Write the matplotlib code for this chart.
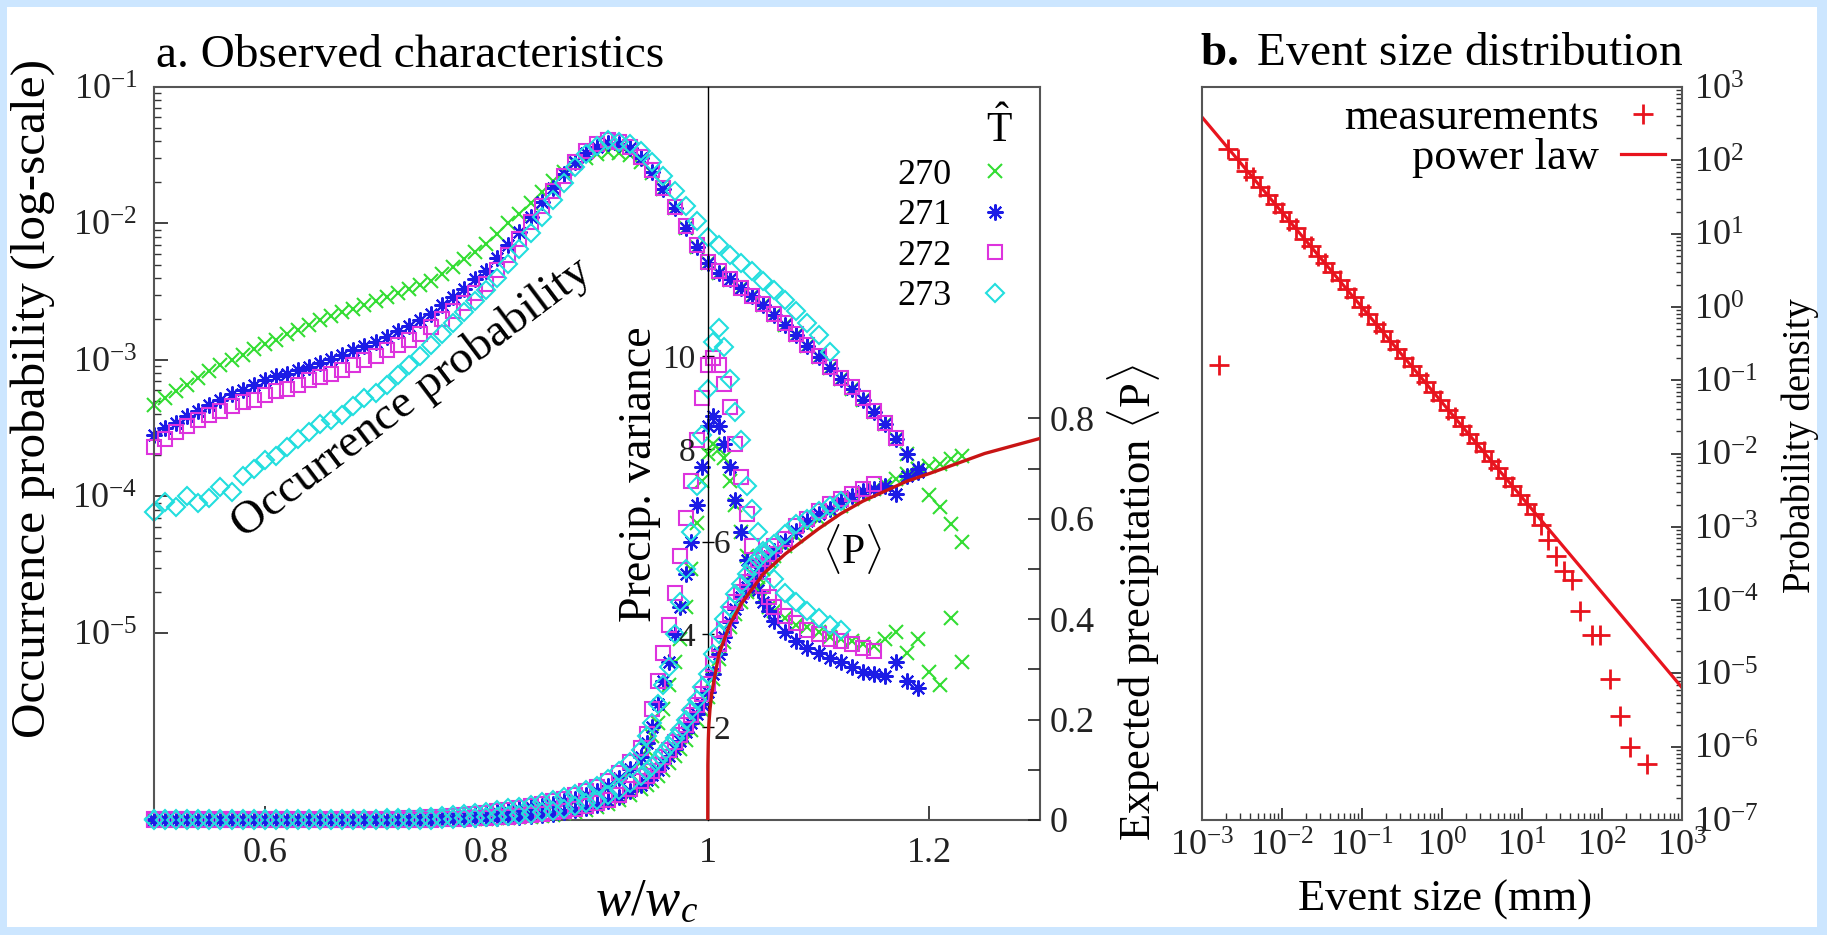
import numpy as np
import matplotlib
matplotlib.use("Agg")
import matplotlib.pyplot as plt
from matplotlib.patches import Rectangle
from matplotlib.ticker import FixedLocator, FuncFormatter, NullFormatter, LogLocator

plt.rcParams['font.family'] = ['Liberation Serif', 'DejaVu Serif']
plt.rcParams['mathtext.fontset'] = 'custom'
plt.rcParams['mathtext.rm'] = 'Liberation Serif'
plt.rcParams['mathtext.it'] = 'Liberation Serif:italic'
plt.rcParams['mathtext.bf'] = 'Liberation Serif:bold'

W, H = 1827, 935
def fx(px):
    return px / W
def fy(py):
    return 1 - py / H

# ==== panel a data ====
temps = ['270', '271', '272', '273']
colors = ['#33dd33', '#1c1ce6', '#dd33dd', '#22dede']
markers = ['x', (8, 2, 0), 's', 'D']
msizes = [10.5, 11.5, 9.5, 9]

# occurrence probability (log10), sampled every 0.01 in w/wc starting at 0.50
w_occ = [0.50, 0.51, 0.52, 0.53, 0.54, 0.55, 0.56, 0.57, 0.58, 0.59,
         0.60, 0.61, 0.62, 0.63, 0.64, 0.65, 0.66, 0.67, 0.68, 0.69,
         0.70, 0.71, 0.72, 0.73, 0.74, 0.75, 0.76, 0.77, 0.78, 0.79,
         0.80, 0.81, 0.82, 0.83, 0.84, 0.85, 0.86, 0.87, 0.88, 0.89,
         0.90, 0.91, 0.92, 0.93, 0.94, 0.95, 0.96, 0.97, 0.98, 0.99,
         1.00, 1.01, 1.02, 1.03, 1.04, 1.05, 1.06, 1.07, 1.08, 1.09,
         1.10, 1.11, 1.12, 1.13, 1.14, 1.15, 1.16, 1.17, 1.18, 1.19,
         1.20, 1.21, 1.22, 1.23]

occ_270 = [-3.33, -3.28, -3.23, -3.18, -3.13, -3.08, -3.04, -3.00, -2.96, -2.92,
           -2.88, -2.85, -2.81, -2.78, -2.74, -2.71, -2.68, -2.65, -2.63, -2.60,
           -2.57, -2.54, -2.51, -2.48, -2.45, -2.42, -2.37, -2.32, -2.26, -2.21,
           -2.15, -2.08, -2.00, -1.93, -1.85, -1.77, -1.69, -1.62, -1.56, -1.52,
           -1.49, -1.475, -1.48, -1.50, -1.55, -1.63, -1.75, -1.89, -2.03, -2.17,
           -2.29, -2.36, -2.415, -2.47, -2.53, -2.60, -2.67, -2.74, -2.82, -2.90,
           -2.98, -3.06, -3.14, -3.21, -3.29, -3.38, -3.47, -3.58, -3.69, -3.80,
           -3.99, -4.08, -4.20, -4.33]
occ_271 = [-3.55, -3.50, -3.46, -3.41, -3.37, -3.33, -3.29, -3.25, -3.22, -3.18,
           -3.15, -3.12, -3.10, -3.07, -3.05, -3.02, -2.99, -2.96, -2.93, -2.90,
           -2.87, -2.83, -2.79, -2.75, -2.71, -2.66, -2.60, -2.54, -2.48, -2.41,
           -2.345, -2.25, -2.16, -2.06, -1.95, -1.84, -1.74, -1.64, -1.55, -1.48,
           -1.44, -1.41, -1.42, -1.45, -1.52, -1.62, -1.75, -1.89, -2.03, -2.17,
           -2.29, -2.36, -2.41, -2.47, -2.53, -2.60, -2.67, -2.74, -2.82, -2.90,
           -2.98, -3.06, -3.14, -3.21, -3.29, -3.38, -3.47, -3.58, -3.69, -3.82]
occ_272 = [-3.64, -3.58, -3.53, -3.48, -3.44, -3.40, -3.37, -3.34, -3.31, -3.29,
           -3.26, -3.23, -3.21, -3.18, -3.15, -3.125, -3.10, -3.07, -3.04, -3.00,
           -2.97, -2.93, -2.89, -2.85, -2.81, -2.76, -2.70, -2.64, -2.58, -2.51,
           -2.44, -2.34, -2.23, -2.11, -1.99, -1.87, -1.76, -1.65, -1.55, -1.47,
           -1.42, -1.39, -1.40, -1.44, -1.51, -1.61, -1.74, -1.88, -2.02, -2.16,
           -2.28, -2.35, -2.41, -2.47, -2.53, -2.59, -2.66, -2.73, -2.81, -2.89,
           -2.97, -3.05, -3.13, -3.20, -3.28, -3.37, -3.46, -3.57]
occ_273 = [-4.11, -4.04, -4.08, -4.00, -4.05, -4.01, -3.93, -3.97, -3.85, -3.80,
           -3.73, -3.70, -3.64, -3.58, -3.53, -3.47, -3.44, -3.40, -3.34, -3.28,
           -3.24, -3.18, -3.11, -3.04, -2.97, -2.89, -2.81, -2.73, -2.65, -2.57,
           -2.49, -2.40, -2.30, -2.19, -2.07, -1.95, -1.83, -1.70, -1.585, -1.49,
           -1.43, -1.39, -1.40, -1.42, -1.47, -1.55, -1.65, -1.76, -1.87, -1.98,
           -2.10, -2.16, -2.23, -2.29, -2.35, -2.42, -2.49, -2.56, -2.64, -2.73,
           -2.82, -2.94]

# variance and <P> share a grid that is finer around w = wc
w_vp = [0.50, 0.51, 0.52, 0.53, 0.54, 0.55, 0.56, 0.57, 0.58, 0.59,
        0.60, 0.61, 0.62, 0.63, 0.64, 0.65, 0.66, 0.67, 0.68, 0.69,
        0.70, 0.71, 0.72, 0.73, 0.74, 0.75, 0.76, 0.77, 0.78, 0.79,
        0.80, 0.81, 0.82, 0.83, 0.84, 0.85, 0.86, 0.87, 0.88, 0.89,
        0.90, 0.91, 0.92, 0.93, 0.94,
        0.945, 0.95, 0.955, 0.96, 0.965, 0.97, 0.975, 0.98, 0.985, 0.99,
        0.995, 1.00, 1.005, 1.01, 1.015, 1.02, 1.025, 1.03, 1.035, 1.04,
        1.045, 1.05, 1.055, 1.06,
        1.07, 1.08, 1.09, 1.10, 1.11, 1.12, 1.13, 1.14, 1.15, 1.16,
        1.17, 1.18, 1.19, 1.20, 1.21, 1.22, 1.23]

var_270 = ([0.02] * 21 +
           [0.02, 0.03, 0.03, 0.04, 0.05, 0.06, 0.07, 0.08, 0.10, 0.12] +
           [0.14, 0.17, 0.20, 0.23, 0.27, 0.31, 0.36, 0.42, 0.49, 0.58, 0.69, 0.84, 1.02, 1.25] +
           [1.5, 1.8, 2.1, 2.4, 2.9, 3.4, 3.9, 4.6, 5.4, 6.4, 7.3, 7.9, 8.1, 8.0, 7.8, 7.3,
            6.8, 6.2, 5.7, 5.3, 5.0, 4.8, 4.6, 4.5] +
           [4.35, 4.2, 4.15, 4.05, 3.95, 3.9, 3.85, 3.8, 3.75, 3.9, 4.05, 3.6, 3.9, 3.2,
            2.9, 4.35, 3.4])
var_271 = ([0.02] * 21 +
           [0.03, 0.03, 0.04, 0.05, 0.06, 0.07, 0.08, 0.10, 0.12, 0.14] +
           [0.17, 0.20, 0.23, 0.27, 0.31, 0.35, 0.40, 0.46, 0.53, 0.62, 0.74, 0.90, 1.10, 1.35] +
           [1.65, 2.0, 2.5, 3.0, 3.4, 4.0, 4.6, 5.3, 6.0, 6.8, 7.6, 8.5, 8.7, 8.5, 8.1, 7.6,
            6.9, 6.2, 5.6, 5.2, 4.95, 4.7, 4.5, 4.3] +
           [4.05, 3.85, 3.7, 3.6, 3.5, 3.4, 3.3, 3.2, 3.15, 3.1, 3.4, 3.0, 2.85])
var_272 = ([0.02] * 21 +
           [0.03, 0.03, 0.04, 0.05, 0.06, 0.07, 0.09, 0.11, 0.13, 0.16] +
           [0.19, 0.22, 0.26, 0.30, 0.35, 0.40, 0.46, 0.53, 0.62, 0.72, 0.85, 1.02, 1.25, 1.55] +
           [1.85, 2.4, 3.0, 3.6, 4.2, 4.9, 5.7, 6.5, 7.3, 8.2, 9.1, 9.8, 9.95, 9.8, 9.4, 8.9,
            8.1, 7.4, 6.6, 5.9, 5.4, 5.05, 4.8, 4.6] +
           [4.4, 4.25, 4.1, 4.0, 3.9, 3.85, 3.8, 3.7, 3.65])
var_273 = ([0.03] * 21 +
           [0.04, 0.04, 0.05, 0.06, 0.07, 0.09, 0.11, 0.13, 0.15, 0.18] +
           [0.21, 0.25, 0.29, 0.33, 0.38, 0.43, 0.49, 0.56, 0.64, 0.74, 0.88, 1.05, 1.25, 1.5] +
           [1.8, 2.1, 2.5, 2.9, 3.3, 4.0, 4.7, 5.4, 6.2, 7.2, 8.3, 9.3, 10.3, 10.6, 10.2, 9.5,
            8.8, 8.2, 7.2, 6.7, 6.2, 5.8, 5.5, 5.2] +
           [4.9, 4.7, 4.5, 4.35, 4.2, 4.1])

p_270 = ([0.0] * 26 +
         [0.001, 0.001, 0.001, 0.002, 0.002] +
         [0.003, 0.004, 0.005, 0.006, 0.008, 0.010, 0.013, 0.016, 0.020, 0.025, 0.031, 0.039, 0.049, 0.061] +
         [0.069, 0.078, 0.088, 0.10, 0.113, 0.127, 0.142, 0.16, 0.18, 0.2, 0.22, 0.245, 0.28, 0.32,
          0.355, 0.385, 0.41, 0.435, 0.455, 0.47, 0.485, 0.50, 0.515, 0.525] +
         [0.545, 0.565, 0.585, 0.60, 0.615, 0.625, 0.64, 0.65, 0.66, 0.67, 0.68, 0.69, 0.70,
          0.705, 0.71, 0.72, 0.725])
p_271 = ([0.0] * 26 +
         [0.001, 0.001, 0.002, 0.002, 0.003] +
         [0.004, 0.005, 0.006, 0.008, 0.010, 0.012, 0.015, 0.019, 0.024, 0.030, 0.037, 0.046, 0.057, 0.070] +
         [0.079, 0.089, 0.10, 0.113, 0.127, 0.142, 0.158, 0.175, 0.193, 0.212, 0.232, 0.255, 0.29, 0.33,
          0.365, 0.395, 0.42, 0.445, 0.465, 0.48, 0.495, 0.51, 0.525, 0.535] +
         [0.555, 0.575, 0.595, 0.61, 0.62, 0.635, 0.645, 0.655, 0.66, 0.665, 0.65, 0.685, 0.70])
p_272 = ([0.0] * 26 +
         [0.001, 0.002, 0.002, 0.003, 0.004] +
         [0.005, 0.006, 0.008, 0.010, 0.012, 0.015, 0.018, 0.022, 0.027, 0.033, 0.040, 0.050, 0.062, 0.077] +
         [0.087, 0.098, 0.11, 0.125, 0.14, 0.155, 0.17, 0.19, 0.21, 0.23, 0.25, 0.27, 0.31, 0.35,
          0.38, 0.41, 0.435, 0.455, 0.475, 0.49, 0.505, 0.52, 0.53, 0.545] +
         [0.56, 0.585, 0.60, 0.615, 0.63, 0.64, 0.65, 0.66, 0.67])
p_273 = ([0.0] * 26 +
         [0.002, 0.002, 0.003, 0.004, 0.005] +
         [0.006, 0.008, 0.010, 0.012, 0.015, 0.018, 0.022, 0.027, 0.033, 0.040, 0.049, 0.060, 0.073, 0.088] +
         [0.097, 0.107, 0.12, 0.133, 0.148, 0.163, 0.18, 0.2, 0.22, 0.24, 0.265, 0.29, 0.33, 0.37,
          0.40, 0.425, 0.45, 0.47, 0.49, 0.505, 0.52, 0.53, 0.54, 0.55] +
         [0.57, 0.59, 0.60, 0.615, 0.625, 0.635])

# fitted curve for <P> above wc
red_w = [1.0, 1.0001, 1.0005, 1.001, 1.002, 1.0035, 1.005, 1.0075, 1.01, 1.015, 1.02, 1.03,
         1.04, 1.05, 1.06, 1.07, 1.085, 1.10, 1.12, 1.14, 1.16, 1.18, 1.20, 1.225, 1.25,
         1.275, 1.30]
red_p = [0.0, 0.11, 0.16, 0.19, 0.22, 0.25, 0.27, 0.30, 0.33, 0.36, 0.39, 0.43,
         0.46, 0.49, 0.51, 0.53, 0.555, 0.58, 0.61, 0.635, 0.655, 0.675, 0.69, 0.71, 0.73,
         0.745, 0.76]

occ = [occ_270, occ_271, occ_272, occ_273]
var = [var_270, var_271, var_272, var_273]
pav = [p_270, p_271, p_272, p_273]

# ==== panel b data (log10 values) ====
meas_lx = [-2.79, -2.67, -2.55, -2.45, -2.36, -2.27, -2.18, -2.09, -2.00, -1.91, -1.82,
           -1.73, -1.64, -1.55, -1.46, -1.37, -1.28, -1.19, -1.10, -1.01, -0.92,
           -0.83, -0.74, -0.65, -0.56, -0.47, -0.38, -0.29, -0.20, -0.11, -0.02,
           0.07, 0.16, 0.25, 0.34, 0.43, 0.52, 0.61, 0.70, 0.79, 0.88,
           0.97, 1.06, 1.15, 1.24, 1.33, 1.42, 1.52, 1.62, 1.72, 1.87, 1.98, 2.10,
           2.23, 2.35, 2.56]
meas_ly = [-0.79, 2.15, 2.02, 1.86, 1.77, 1.63, 1.53, 1.40, 1.30, 1.17, 1.07,
           0.93, 0.83, 0.70, 0.60, 0.47, 0.37, 0.24, 0.14, 0.00, -0.10,
           -0.23, -0.33, -0.46, -0.57, -0.70, -0.80, -0.93, -1.03, -1.16, -1.27,
           -1.40, -1.50, -1.63, -1.73, -1.86, -1.96, -2.10, -2.20, -2.33, -2.44,
           -2.56, -2.69, -2.82, -2.97, -3.18, -3.40, -3.60, -3.72, -4.15, -4.48, -4.48, -5.08,
           -5.58, -6.00, -6.24]
pl_x = [1e-3, 1e3]
pl_y = [388.0, 6.4e-6]

# ==== figure ====
fig = plt.figure(figsize=(W / 100, H / 100), dpi=100, facecolor='#cce6ff')
fig.add_artist(Rectangle((fx(7), fy(927)), fx(W - 17), fy(7) - fy(927),
                         transform=fig.transFigure, facecolor='white', edgecolor='none', zorder=-5))

spine_col = '#555555'
tick_fs = 26
mew = 1.5

def pow10(v, pos=None):
    return r'$\mathregular{10^{%d}}$' % int(round(np.log10(v)))

# ---- panel a ----
ax = fig.add_axes([fx(154), fy(820), fx(1040 - 154), fy(87) - fy(820)])
ax.set_facecolor('none')
ax.set_xlim(0.5, 1.3)
ax.set_yscale('log')
ax.set_ylim(10 ** -6.37, 0.1)
for s in ax.spines.values():
    s.set_color(spine_col)
    s.set_linewidth(1.5)

for i in range(4):
    ax.plot(w_occ[:len(occ[i])], 10.0 ** np.array(occ[i]), linestyle='none',
            marker=markers[i], ms=msizes[i], mfc='none', mec=colors[i], mew=mew,
            label=temps[i], clip_on=False)

ax.yaxis.set_major_locator(FixedLocator([1e-5, 1e-4, 1e-3, 1e-2, 1e-1]))
ax.yaxis.set_major_formatter(FuncFormatter(pow10))
minors = [k * 10.0 ** e for e in range(-5, -1) for k in range(2, 10)]
ax.yaxis.set_minor_locator(FixedLocator(minors))
ax.yaxis.set_minor_formatter(NullFormatter())
ax.tick_params(axis='y', which='major', direction='in', length=10, width=1.2,
               left=True, right=False, labelsize=tick_fs, pad=12, colors='#222222')
ax.tick_params(axis='y', which='minor', direction='in', length=5, width=1.0,
               left=True, right=False, colors='#333333')
ax.set_xticks([0.6, 0.8, 1.0, 1.2])
ax.set_xticklabels(['0.6', '0.8', '1', '1.2'])
ax.tick_params(axis='x', direction='in', length=10, width=1.2, top=False,
               labelsize=tick_fs, pad=12, colors='#222222')

leg = ax.legend(title=r'$\hat{\mathrm{T}}$', loc='upper right', bbox_to_anchor=(0.9695, 0.972),
                frameon=False, markerfirst=False, fontsize=26, title_fontsize=30,
                handlelength=1.0, handletextpad=0.7, labelspacing=0.2, borderpad=0,
                borderaxespad=0)
leg._legend_box.align = 'right'

# precipitation variance on an axis drawn at w = wc
ax_v = ax.twinx()
ax_v.set_ylim(0, 15.8)
for s in ['top', 'bottom', 'right']:
    ax_v.spines[s].set_visible(False)
ax_v.spines['left'].set_position(('data', 1.0))
ax_v.spines['left'].set_color('black')
ax_v.spines['left'].set_linewidth(1.0)
ax_v.yaxis.set_ticks_position('left')
ax_v.set_yticks([2, 4, 6, 8, 10])
ax_v.tick_params(axis='y', direction='inout', length=8, width=1.0, labelleft=False, labelright=False)
for v, side in [(10, -1), (8, -1), (6, 1), (4, -1), (2, 1)]:
    ax_v.annotate(str(v), xy=(1.0, v), xytext=(-9 if side < 0 else 4, 0),
                  textcoords='offset points', ha='right' if side < 0 else 'left',
                  va='center_baseline', fontsize=24, color='#222222')
for i in range(4):
    ax_v.plot(w_vp[:len(var[i])], var[i], linestyle='none', marker=markers[i], ms=msizes[i],
              mfc='none', mec=colors[i], mew=mew, clip_on=False)

# expected precipitation on the right
ax_p = ax.twinx()
ax_p.set_ylim(0, 1.46)
for s in ax_p.spines.values():
    s.set_visible(False)
ax_p.set_yticks([0, 0.2, 0.4, 0.6, 0.8])
ax_p.set_yticklabels(['0', '0.2', '0.4', '0.6', '0.8'])
ax_p.yaxis.set_minor_locator(FixedLocator([0.1, 0.3, 0.5, 0.7]))
ax_p.tick_params(axis='y', which='both', direction='in', length=9, width=1.2,
                 labelsize=tick_fs, pad=7, colors='#222222')
for i in range(4):
    ax_p.plot(w_vp[:len(pav[i])], pav[i], linestyle='none', marker=markers[i], ms=msizes[i],
              mfc='none', mec=colors[i], mew=mew, clip_on=False)
ax_p.plot(red_w, red_p, color='#c81414', lw=2.4)

# panel a texts
fig.text(fx(156), fy(56), 'a. Observed characteristics', ha='left', va='center', fontsize=34)
fig.text(fx(33), fy(398), 'Occurrence probability (log-scale)', rotation=90,
         ha='center', va='center', fontsize=35.5)
fig.text(fx(646), fy(902), r'$w/w_c$', ha='center', va='center', fontsize=38)
fig.text(fx(1133), fy(602), r'Expected precipitation $\langle\mathrm{P}\rangle$', rotation=90,
         ha='center', va='center', fontsize=32)
fig.text(fx(640), fy(474), 'Precip. variance', rotation=90, ha='center', va='center', fontsize=33)
fig.text(fx(412), fy(398), 'Occurrence probability', rotation=37, rotation_mode='anchor',
         ha='center', va='center', fontsize=34)
fig.text(fx(852), fy(549), r'$\langle\mathrm{P}\rangle$', ha='center', va='center', fontsize=30)

# ---- panel b ----
bx = fig.add_axes([fx(1202), fy(820), fx(1682 - 1202), fy(87) - fy(820)])
bx.set_xscale('log')
bx.set_yscale('log')
bx.set_xlim(1e-3, 1e3)
bx.set_ylim(1e-7, 1e3)
for s in bx.spines.values():
    s.set_color(spine_col)
    s.set_linewidth(1.5)
red_b = '#e8141e'
bx.plot(10.0 ** np.array(meas_lx), 10.0 ** np.array(meas_ly), linestyle='none', marker='+',
        ms=15, mew=2.0, color=red_b, label='measurements', clip_on=False)
bx.plot(pl_x, pl_y, color=red_b, lw=2.3, label='power law')

bx.xaxis.set_major_locator(LogLocator(base=10, numticks=20))
bx.xaxis.set_minor_locator(LogLocator(base=10, subs=np.arange(2, 10), numticks=20))
bx.xaxis.set_major_formatter(FuncFormatter(pow10))
bx.xaxis.set_minor_formatter(NullFormatter())
bx.yaxis.set_major_locator(LogLocator(base=10, numticks=20))
bx.yaxis.set_minor_locator(LogLocator(base=10, subs=np.arange(2, 10), numticks=20))
bx.yaxis.set_major_formatter(FuncFormatter(pow10))
bx.yaxis.set_minor_formatter(NullFormatter())
bx.tick_params(axis='x', which='major', direction='in', length=9, width=1.2, top=False,
               labelsize=tick_fs, pad=8, colors='#222222')
bx.tick_params(axis='x', which='minor', direction='in', length=5, width=1.0, top=False,
               colors='#333333')
bx.tick_params(axis='y', which='major', direction='in', length=8, width=1.2, left=False,
               right=True, labelleft=False, labelright=True, labelsize=tick_fs, pad=9,
               colors='#222222')
bx.tick_params(axis='y', which='minor', direction='in', length=4, width=1.0, left=False,
               right=True, colors='#333333')

bx.legend(loc='upper right', bbox_to_anchor=(0.965, 0.985), frameon=False, markerfirst=False,
          fontsize=32, handlelength=1.0, handletextpad=0.5, labelspacing=0.0,
          borderpad=0, borderaxespad=0)

fig.text(fx(1200), fy(54), r'$\mathbf{b.}$ Event size distribution', ha='left', va='center',
         fontsize=34)
fig.text(fx(1445), fy(900), 'Event size (mm)', ha='center', va='center', fontsize=32)
fig.text(fx(1800), fy(446), 'Probability density', rotation=90, ha='center', va='center',
         fontsize=28)

fig.savefig('out.png', dpi=100, facecolor=fig.get_facecolor())
